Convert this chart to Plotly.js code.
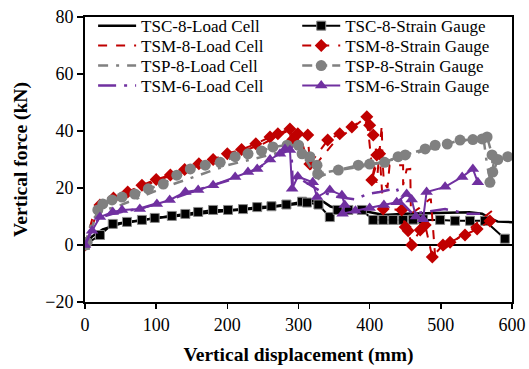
<!DOCTYPE html>
<html>
<head>
<meta charset="utf-8">
<script src="https://cdn.plot.ly/plotly-3.0.1.min.js"></script>
<style>html,body{margin:0;padding:0;background:#fff;}#chart{width:529px;height:369px;}</style>
</head>
<body>
<div id="chart"></div>
<script>
// TSC-8
const tscLoadX = [0, 10, 25, 50, 100, 150, 200, 250, 300, 320, 335, 345, 360, 390, 410, 420, 450, 500, 540, 558, 568, 580, 600];
const tscLoadY = [0, 3, 5.5, 7.5, 9.5, 10.8, 12, 13, 14.5, 15.5, 15.2, 13.5, 12.5, 12, 11, 10.5, 11, 11.3, 11.5, 11, 9.5, 8.2, 8];
const tscGaugeX = [0, 21, 39, 59, 80, 98, 122, 141, 159, 180, 201, 222, 242, 262, 283, 305, 312, 328, 344, 355, 370, 389, 405, 419, 433, 447, 461, 475, 499, 520, 541, 562, 590];
const tscGaugeY = [0, 3.5, 7.4, 8.1, 8.8, 9.5, 10.2, 10.9, 11.6, 12.3, 12.3, 12.6, 13.3, 13.6, 14.2, 15.2, 14.9, 14.2, 9.8, 12.3, 12.3, 12.3, 8.8, 8.8, 8.8, 8.8, 8.9, 9, 8.8, 8.5, 8.5, 8.5, 2.2];
// TSM-8
const tsm8LoadX = [0, 10, 20, 40, 60, 80, 100, 150, 200, 250, 288, 290, 295, 305, 312, 318, 330, 350, 375, 393, 398, 402, 405, 410, 414, 417, 418, 420, 425, 428, 447, 447, 452, 457, 458, 470, 484, 486, 492, 572];
const tsm8LoadY = [0, 9, 13, 16, 18.5, 20.5, 22.5, 27, 31, 35.5, 40.5, 34, 38, 36, 30, 26, 30, 36, 41, 44.5, 40, 30, 23, 22, 32, 42, 30, 22, 20, 28, 28, 21, 26.5, 26.7, 11, 13, 16, 16, -4, 12, 17.5];
const tsm8GaugeX = [0, 21, 40, 60, 80, 100, 120, 140, 160, 180, 200, 220, 240, 260, 271, 288, 292, 299, 313, 316, 341, 358, 375, 396, 400, 405, 410, 403, 414, 419, 445, 450, 454, 459, 471, 478, 488, 503, 513, 534, 551, 569];
const tsm8GaugeY = [0, 14, 16.5, 18.6, 21, 23, 24.6, 26.5, 28.5, 30, 32, 33.5, 35.5, 37.9, 39, 40.7, 37, 39, 38.6, 28.4, 36.8, 39, 41.4, 45, 42, 38.6, 31.6, 22.8, 32, 12.6, 12.3, 6.3, 5, 0, 5.3, 7, -4.2, 0, 1, 3.5, 5.6, 8.4];
// TSP-8
const tspLoadX = [0, 10, 25, 50, 80, 120, 160, 200, 250, 280, 295, 300, 310, 320, 325, 330, 350, 400, 450, 500, 540, 560, 565, 570, 575, 590];
const tspLoadY = [0, 9, 12, 14, 17, 21, 24.5, 28, 31, 33, 35, 33, 30, 26, 22, 24, 26, 28, 31, 35, 37, 37.5, 28, 22, 30, 31];
const tspGaugeX = [0, 3, 18, 25, 38, 52, 70, 89, 110, 129, 148, 169, 190, 211, 229, 248, 264, 284, 300, 305, 316, 326, 327, 356, 384, 400, 421, 440, 450, 478, 492, 509, 527, 545, 558, 565, 572, 573, 569, 580, 594];
const tspGaugeY = [0, 1, 12.3, 14.4, 15.8, 16.8, 17.9, 19.7, 21.4, 24.5, 26.7, 28, 29, 31, 32, 33, 34.4, 35, 35, 32, 31, 28, 25, 26.3, 28, 28.4, 29, 31, 31.6, 33.7, 35, 35.4, 36.8, 37, 37.2, 37.9, 31.6, 25.6, 22, 30, 31];
// TSM-6
const tsm6LoadX = [0, 10, 20, 40, 80, 120, 160, 200, 240, 270, 285, 290, 292, 298, 310, 330, 350, 379, 398, 414, 438, 445, 460, 487, 506, 537, 555];
const tsm6LoadY = [0, 6, 9.5, 11, 13, 16, 19.5, 22.5, 26.5, 31, 33, 34, 20, 24, 22, 19, 17, 16, 18, 18.6, 20, 15, 11, 12, 12.6, 11, 11];
const tsm6GaugeX = [0, 10, 21, 39, 52, 77, 101, 119, 141, 159, 180, 211, 229, 242, 260, 274, 281, 288, 291, 299, 320, 326, 344, 361, 365, 362, 380, 400, 420, 438, 452, 459, 465, 475, 480, 506, 530, 545, 552];
const tsm6GaugeY = [0, 5, 9.8, 11.6, 12.3, 12.6, 14.4, 15.8, 18.6, 19.3, 21, 23.9, 25.6, 26.7, 30, 32, 33.7, 33.3, 19.7, 24, 22, 16.8, 19.3, 17.5, 14, 11, 12, 13, 14, 15, 17.9, 16, 10, 9, 18.6, 20.4, 23.9, 26.7, 22];

const red = '#c00000', gray = '#808080', purple = '#7030a0';
const traces = [
  {x: tscLoadX, y: tscLoadY, name: 'TSC-8-Load Cell', legend: 'legend', mode: 'lines', line: {color: '#000', width: 2.5}},
  {x: tscGaugeX, y: tscGaugeY, name: 'TSC-8-Strain Gauge', legend: 'legend2', mode: 'lines+markers', line: {color: '#000', width: 2}, marker: {symbol: 'square', size: 9, color: '#000', line: {color: '#888', width: 1}}},
  {x: tsm8LoadX, y: tsm8LoadY, name: 'TSM-8-Load Cell', legend: 'legend3', mode: 'lines', line: {color: red, width: 2, dash: 'dash'}},
  {x: tsm8GaugeX, y: tsm8GaugeY, name: 'TSM-8-Strain Gauge', legend: 'legend4', mode: 'lines+markers', line: {color: red, width: 2, dash: 'dash'}, marker: {symbol: 'diamond', size: 10, color: red}},
  {x: tspLoadX, y: tspLoadY, name: 'TSP-8-Load Cell', legend: 'legend5', mode: 'lines', line: {color: gray, width: 2.5, dash: '10px,8px,3px,8px'}},
  {x: tspGaugeX, y: tspGaugeY, name: 'TSP-8-Strain Gauge', legend: 'legend6', mode: 'lines+markers', line: {color: gray, width: 2.5, dash: '10px,5px'}, marker: {symbol: 'circle', size: 11, color: gray}},
  {x: tsm6LoadX, y: tsm6LoadY, name: 'TSM-6-Load Cell', legend: 'legend7', mode: 'lines', line: {color: purple, width: 2.5, dash: '18px,8px,3px,8px'}},
  {x: tsm6GaugeX, y: tsm6GaugeY, name: 'TSM-6-Strain Gauge', legend: 'legend8', mode: 'lines+markers', line: {color: purple, width: 2}, marker: {symbol: 'triangle-up', size: 11, color: purple}}
];
const FONT = 'Liberation Serif, Times New Roman, serif';
function leg(x, y) {
  return {x: x, y: y, xanchor: 'left', yanchor: 'middle', itemwidth: 38, bgcolor: 'rgba(0,0,0,0)', borderwidth: 0, font: {family: FONT, size: 17, color: '#000'}};
}
const rowY = [0.968, 0.898, 0.828, 0.758];
const colX = [0.019, 0.497];
const layout = {
  width: 529, height: 369,
  margin: {l: 85, r: 17, t: 17, b: 67, autoexpand: false},
  paper_bgcolor: '#fff', plot_bgcolor: '#fff',
  font: {family: FONT, size: 18, color: '#000'},
  showlegend: true,
  legend: leg(colX[0], rowY[0]), legend2: leg(colX[1], rowY[0]),
  legend3: leg(colX[0], rowY[1]), legend4: leg(colX[1], rowY[1]),
  legend5: leg(colX[0], rowY[2]), legend6: leg(colX[1], rowY[2]),
  legend7: leg(colX[0], rowY[3]), legend8: leg(colX[1], rowY[3]),
  xaxis: {range: [0, 600], dtick: 100, tick0: 0, ticks: 'outside', ticklen: 5, tickwidth: 1.5, tickcolor: '#000', showline: true, linecolor: '#000', linewidth: 2, mirror: true, showgrid: false, zeroline: false, automargin: false,
    title: {text: '<b>Vertical displacement (mm)</b>', font: {family: FONT, size: 19.5}, standoff: 14}, tickfont: {family: FONT, size: 18}},
  yaxis: {range: [-20, 80], dtick: 20, tick0: 0, ticks: 'outside', ticklen: 6, tickwidth: 1.5, tickcolor: '#000', showline: true, linecolor: '#000', linewidth: 2, mirror: true, showgrid: false, zeroline: true, zerolinecolor: '#000', zerolinewidth: 1.5, automargin: false,
    title: {text: '<b>Vertical force (kN)</b>', font: {family: FONT, size: 19.5}, standoff: 12}, tickfont: {family: FONT, size: 18}}
};
Plotly.newPlot('chart', traces, layout, {displayModeBar: false, staticPlot: true});
</script>
</body>
</html>
